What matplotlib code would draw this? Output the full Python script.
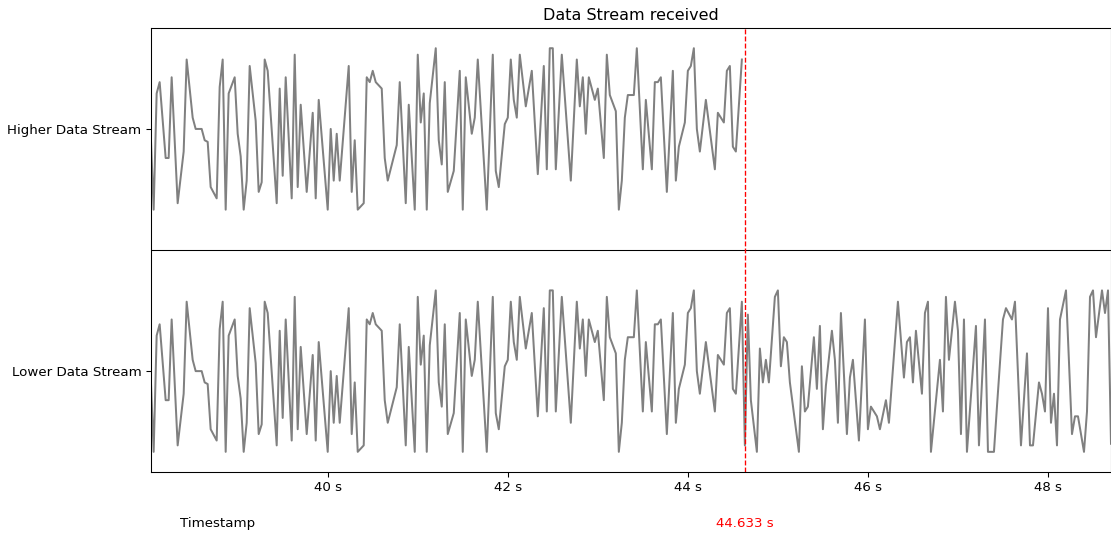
import numpy as np
import matplotlib
matplotlib.use("Agg")
import matplotlib.pyplot as plt
import matplotlib.transforms as mtransforms

# stream sampled at 30 Hz, first sample at 38.033 s
START = 38.0333
RATE = 30.0
CUT_TIME = 44.633          # last sample of the higher stream
OFFSET = 150               # vertical offset of the higher stream

# sample numbers of the visible corners of the trace, and the level there (0-100)
sample = [0, 1, 2, 3, 5, 6, 7, 9, 11, 12, 14, 15, 17, 18, 19, 20, 22, 23, 24, 25,
          26, 28, 29, 30, 31, 32, 33, 35, 36, 37, 38, 39, 42, 43, 44, 45, 47, 48, 49, 50,
          52, 54, 55, 56, 59, 60, 61, 62, 63, 66, 67, 68, 69, 71, 72, 73, 74, 75, 77, 78,
          79, 82, 83, 85, 86, 88, 89, 90, 91, 92, 93, 95, 96, 97, 98, 99, 101, 103, 104, 105,
          107, 108, 109, 112, 114, 115, 116, 118, 119, 120, 121, 122, 123, 125, 127, 129, 131, 132, 133, 134,
          135, 137, 140, 142, 143, 144, 145, 146, 148, 149, 151, 152, 153, 155, 156, 157, 158, 159, 161, 162,
          164, 165, 167, 168, 169, 170, 172, 174, 175, 176, 178, 179, 180, 181, 182, 183, 185, 188, 189, 191,
          192, 193, 194, 195, 197, 198, 199, 200, 202, 203, 204, 205, 206, 208, 209, 210, 211, 212, 213, 216,
          217, 218, 219, 221, 222, 223, 224, 225, 227, 228, 229, 230, 232, 233, 234, 236, 238, 239, 240, 242,
          243, 245, 246, 249, 251, 252, 253, 254, 255, 257, 258, 259, 260, 263, 264, 265, 266, 268, 269, 270,
          271, 272, 275, 276, 278, 279, 281, 282, 284, 285, 287, 288, 290, 292, 293, 294, 296, 297, 298, 299,
          300, 301, 302, 303, 305, 307, 308, 309, 311, 312, 313, 314, 315, 317, 318, 319, 320]
level = [48, 0, 72, 79, 32, 32, 82, 4, 36, 93, 57, 50, 50, 43, 42, 14, 7, 76, 93, 0,
         72, 82, 47, 33, 0, 18, 89, 55, 11, 17, 93, 86, 4, 75, 21, 82, 7, 96, 14, 65,
         11, 60, 7, 68, 0, 50, 18, 47, 18, 89, 11, 43, 0, 4, 82, 79, 86, 79, 75, 32,
         18, 40, 79, 4, 65, 0, 96, 54, 72, 0, 66, 100, 43, 28, 79, 11, 24, 86, 0, 82,
         47, 57, 93, 0, 96, 24, 14, 53, 57, 93, 68, 57, 96, 64, 86, 22, 89, 25, 100, 100,
         25, 96, 18, 93, 64, 82, 47, 82, 68, 75, 32, 96, 71, 61, 0, 18, 57, 71, 71, 100,
         25, 68, 25, 79, 79, 82, 11, 86, 18, 39, 54, 86, 89, 100, 50, 36, 68, 25, 60, 54,
         86, 89, 39, 36, 93, 4, 85, 32, 0, 64, 43, 57, 43, 96, 100, 53, 71, 68, 43, 0,
         53, 25, 28, 71, 39, 78, 14, 41, 75, 57, 18, 86, 11, 46, 57, 7, 82, 14, 28, 22,
         14, 32, 18, 93, 46, 68, 71, 43, 75, 36, 86, 93, 0, 57, 25, 96, 57, 93, 75, 11,
         82, 0, 78, 4, 82, 0, 0, 28, 82, 89, 82, 93, 4, 61, 4, 4, 43, 36, 25, 89,
         18, 36, 4, 82, 100, 11, 22, 22, 0, 25, 96, 100, 71, 100, 86, 100, 5]

stream_labels = ["Lower Data Stream", "Higher Data Stream"]
xticks = [40, 42, 44, 46, 48]

t = START + np.array(sample) / RATE
v = np.array(level, dtype=float)
higher = t <= CUT_TIME + 1e-6

# reference looks rendered at 96 dpi
fig = plt.figure(figsize=(1111 / 96, 533 / 96), dpi=96)
ax = fig.add_axes([0.1356, 0.1144, 0.8640, 0.8330])

ax.plot(t, v, color="gray", lw=1.5)
ax.plot(t[higher], v[higher] + OFFSET, color="gray", lw=1.5)
ax.axhline(125, color="black", lw=0.8)
ax.axvline(CUT_TIME, color="red", ls="--", lw=1)

ax.set_xlim(START, 48.695)
ax.set_ylim(-12.5, 262.5)
ax.set_yticks([50, 50 + OFFSET])
ax.set_yticklabels(stream_labels)
ax.set_xticks(xticks)
ax.set_xticklabels([f"{x} s" for x in xticks])
ax.set_title("Data Stream received")

trans = mtransforms.blended_transform_factory(ax.transData, ax.transAxes)
ax.text(0.07, -0.115, "Timestamp", transform=ax.transAxes, ha="center", va="center")
ax.text(CUT_TIME, -0.115, f"{CUT_TIME:.3f} s", color="red", transform=trans,
        ha="center", va="center")

fig.savefig("out.png", dpi=96)
